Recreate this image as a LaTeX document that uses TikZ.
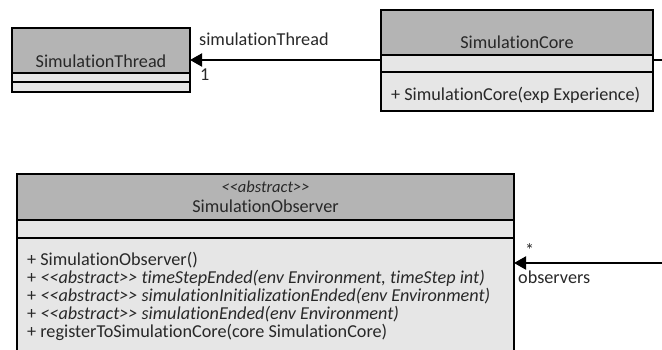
\documentclass[tikz,border=0pt]{standalone}
\usepackage{fontspec}
\setmainfont{Carlito}[Ligatures=NoCommon, RawFeature={-liga;-clig}]
\usetikzlibrary{arrows.meta}
\definecolor{hdrgray}{RGB}{180,180,180}
\definecolor{cmpgray}{RGB}{230,230,230}
\definecolor{ink}{RGB}{40,40,40}
\begin{document}
\begin{tikzpicture}[x=1pt,y=-1pt,
  box/.style={draw=black, line width=2pt, anchor=north west, inner sep=0pt, outer sep=0pt},
  hdrbox/.style={box, fill=hdrgray},
  cmpbox/.style={box, fill=cmpgray},
  txt/.style={font=\fontsize{18.2}{18}\selectfont, text=ink, inner sep=0pt},
  stereo/.style={font=\fontsize{16.5}{16}\selectfont\itshape, text=ink, inner sep=0pt},
  line/.style={draw=black, line width=2pt},
  assoc/.style={line, -{Triangle[length=12pt,width=13pt]}}
]
\useasboundingbox (0,0) rectangle (662,349);
% SimulationThread
\node[hdrbox, minimum width=178pt, minimum height=45pt] (thrH) at (12,28) {};
\node[cmpbox, minimum width=178pt, minimum height=9pt] (thrA) at (12,73) {};
\node[cmpbox, minimum width=178pt, minimum height=10pt] (thrM) at (12,82) {};
\node[txt, anchor=base] (thrN) at (101,67) {SimulationThread};
% SimulationCore
\node[hdrbox, minimum width=272pt, minimum height=45pt] (coreH) at (381,10) {};
\node[cmpbox, minimum width=272pt, minimum height=17pt] (coreA) at (381,55) {};
\node[cmpbox, minimum width=272pt, minimum height=39pt] (coreM) at (381,72) {};
\node[txt, anchor=base] (coreN) at (517,48) {SimulationCore};
\node[txt, anchor=base west] (coreM1) at (391,100) {+ SimulationCore(exp Experience)};
% SimulationObserver
\node[hdrbox, minimum width=497pt, minimum height=46pt] (obsH) at (17,174) {};
\node[cmpbox, minimum width=497pt, minimum height=18pt] (obsA) at (17,220) {};
\node[cmpbox, minimum width=497pt, minimum height=140pt] (obsM) at (17,238) {};
\node[stereo, anchor=base] (obsS) at (265.5,192) {<{}<abstract>{}>};
\node[txt, anchor=base] (obsN) at (265.5,212) {SimulationObserver};
\node[txt, anchor=base west] (m1) at (27,265) {+ SimulationObserver()};
\node[txt, anchor=base west] (m2) at (27,283) {+ \textit{<{}<abstract>{}> timeStepEnded(env Environment, timeStep int)}};
\node[txt, anchor=base west] (m3) at (27,301) {+ \textit{<{}<abstract>{}> simulationInitializationEnded(env Environment)}};
\node[txt, anchor=base west] (m4) at (27,319) {+ \textit{<{}<abstract>{}> simulationEnded(env Environment)}};
\node[txt, anchor=base west] (m5) at (27,337) {+ registerToSimulationCore(core SimulationCore)};
% connectors
\coordinate (ly) at (0,60);
\coordinate (rt) at (680,60);
\coordinate (rb) at (680,263);
\draw[assoc] (coreA.west |- ly) -- (thrH.east |- ly);
\draw[line] (coreA.east |- rt) -- (rt);
\draw[assoc] (rb) -- (obsM.east |- rb);
% labels
\node[txt, anchor=base west] (l1) at (199,45) {simulationThread};
\node[txt, anchor=base west] (l2) at (200,80) {1};
\node[txt, anchor=base west] (l3) at (525,256) {*};
\node[txt, anchor=base west] (l4) at (518,283) {observers};
\end{tikzpicture}
\end{document}
